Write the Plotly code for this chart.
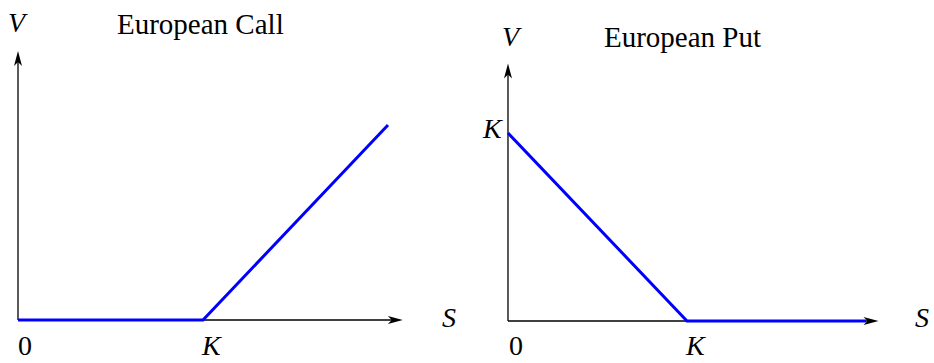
import plotly.graph_objects as go

# payoff data (strike K = 1)
K = 1.0
s_call = [0, K, 2 * K]
v_call = [0, 0, 1.0]
s_put = [0, K, 2 * K]
v_put = [K, 0, 0]

# axis arrow tips in data units (left, right)
s_tip = [2.08, 2.07]
v_tip = [1.38, 1.37]

titles = ["European Call", "European Put"]

W, H = 934, 363
FONT = "Liberation Serif"
BLUE = "#0000ff"

fig = go.Figure()

fig.add_trace(go.Scatter(x=s_call, y=v_call, mode="lines", line=dict(color=BLUE, width=3),
                         xaxis="x", yaxis="y", showlegend=False, hoverinfo="skip"))
fig.add_trace(go.Scatter(x=s_put, y=v_put, mode="lines", line=dict(color=BLUE, width=3),
                         xaxis="x2", yaxis="y2", showlegend=False, hoverinfo="skip"))

shapes = []
for i, (xr, yr) in enumerate([("x", "y"), ("x2", "y2")]):
    # axis lines (drawn under the payoff line)
    shapes.append(dict(type="line", xref=xr, yref=yr, x0=0, y0=0, x1=s_tip[i] - 0.04, y1=0,
                       line=dict(color="black", width=1.3), layer="below"))
    shapes.append(dict(type="line", xref=xr, yref=yr, x0=0, y0=0, x1=0, y1=v_tip[i] - 0.04,
                       line=dict(color="black", width=1.3), layer="below"))
    # arrow heads
    shapes.append(dict(type="path", xref=xr, yref=yr, xsizemode="pixel", ysizemode="pixel",
                       xanchor=s_tip[i], yanchor=0, path="M0,0 L-15,4 L-11,0 L-15,-4 Z",
                       fillcolor="black", line=dict(width=0)))
    shapes.append(dict(type="path", xref=xr, yref=yr, xsizemode="pixel", ysizemode="pixel",
                       xanchor=0, yanchor=v_tip[i], path="M0,0 L-4,-15 L0,-11 L4,-15 Z",
                       fillcolor="black", line=dict(width=0)))


def label(text, x, y, size=28):
    return dict(text=text, x=x / W, y=1 - y / H, xref="paper", yref="paper",
                showarrow=False, xanchor="center", yanchor="middle",
                font=dict(family=FONT, size=size, color="black"))


annotations = [
    label("<i>V</i>", 18, 23),
    label(titles[0], 200, 24, 29),
    label("<i>S</i>", 449, 317),
    label("0", 25, 345),
    label("<i>K</i>", 211, 345),
    label("<i>V</i>", 512, 36),
    label(titles[1], 682, 37, 29),
    label("<i>K</i>", 492, 129),
    label("<i>S</i>", 922, 317),
    label("0", 516, 345),
    label("<i>K</i>", 695, 345),
]

ax = dict(visible=False, fixedrange=True)
fig.update_layout(
    width=W, height=H,
    margin=dict(l=0, r=0, t=0, b=0),
    paper_bgcolor="white", plot_bgcolor="white",
    xaxis=dict(ax, domain=[0, 0.5], range=[-0.0973, 2.427]),
    yaxis=dict(ax, domain=[0, 1], range=[-0.2205, 1.641]),
    xaxis2=dict(ax, domain=[0.5, 1], range=[-0.229, 2.380], anchor="y2"),
    yaxis2=dict(ax, domain=[0, 1], range=[-0.2234, 1.7074], anchor="x2"),
    shapes=shapes,
    annotations=annotations,
)

# drop the default body margin so the figure sits at the page corner
fig.write_html("out.html", config={"displayModeBar": False},
               post_script="document.body.style.margin='0';")
